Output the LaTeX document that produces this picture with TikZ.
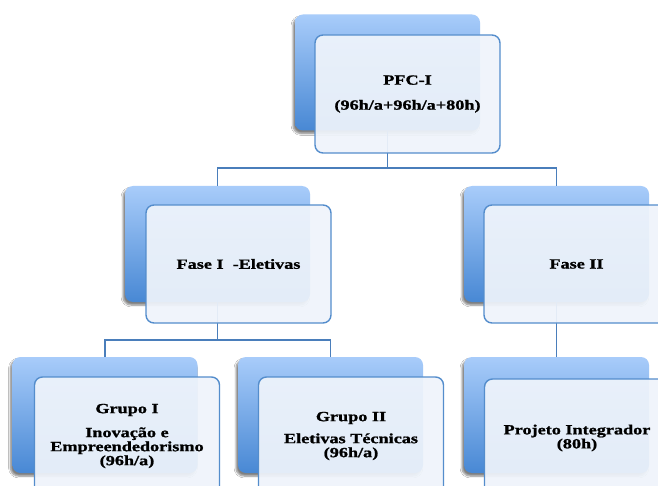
\documentclass[tikz,border=0pt]{standalone}
\usepackage{fontspec}
\setmainfont{Liberation Serif}[FakeStretch=1.3, BoldFeatures={FakeBold=1.2}]
\usetikzlibrary{shadows.blur}
\definecolor{bTop}{RGB}{168,204,250}
\definecolor{bBot}{RGB}{72,136,212}
\definecolor{fEdge}{RGB}{84,141,204}
\definecolor{fFill}{RGB}{239,244,251}
\definecolor{lnk}{RGB}{74,126,187}
\tikzset{
  backbox/.style={rounded corners=8pt, minimum width=185pt, minimum height=116pt, inner sep=0pt,
    top color=bTop, bottom color=bBot,
    blur shadow={shadow xshift=-2pt, shadow yshift=-3pt, shadow blur steps=6, shadow opacity=50}},
  frontbox/.style={draw=fEdge, line width=1.4pt, rounded corners=8pt, fill=fFill, fill opacity=0.93,
    text opacity=1, minimum width=185pt, minimum height=118pt, inner sep=0pt, align=center,
    font=\fontsize{14}{14}\selectfont\bfseries},
  link/.style={draw=lnk, line width=1.3pt}
}
\begin{document}
\begin{tikzpicture}[x=1pt,y=-1pt]
\path[use as bounding box] (0,0) rectangle (658,486);
\clip (0,0) rectangle (658,486);
\fill[white] (0,0) rectangle (658,486);
% back boxes
\node[backbox] (pfcb) at (387.5,72.5) {};
\node[backbox] (f1b) at (217.5,244) {};
\node[backbox] (f2b) at (556.5,244) {};
\node[backbox] (g1b) at (105,415) {};
\node[backbox] (g2b) at (330.5,415) {};
\node[backbox] (pib) at (556.5,415) {};
% connectors
\coordinate (j1) at (387.5,168);
\coordinate (j2) at (217.5,340);
\draw[link] (pfcb.south) -- (j1);
\draw[link] (j1) -| (f1b.north);
\draw[link] (j1) -| (f2b.north);
\draw[link] (f1b.south) -- (j2);
\draw[link] (j2) -| (g1b.north);
\draw[link] (j2) -| (g2b.north);
\draw[link] (f2b.south) -- (pib.north);
% front boxes
\node[frontbox] (pfc) at (407.5,94) {PFC-I\\[11pt](96h/a+96h/a+80h)};
\node[frontbox] (f1) at (238.5,264) {Fase I\ \ -Eletivas};
\node[frontbox] (f2) at (576.5,264) {Fase II};
\node[frontbox] (g1) at (127,436) {Grupo I\\[10pt]Inovação e\\Empreendedorismo\\(96h/a)};
\node[frontbox] (g2) at (351,436) {Grupo II\\[8pt]Eletivas Técnicas\\(96h/a)};
\node[frontbox] (pi) at (577,438) {Projeto Integrador\\(80h)};
\end{tikzpicture}
\end{document}
